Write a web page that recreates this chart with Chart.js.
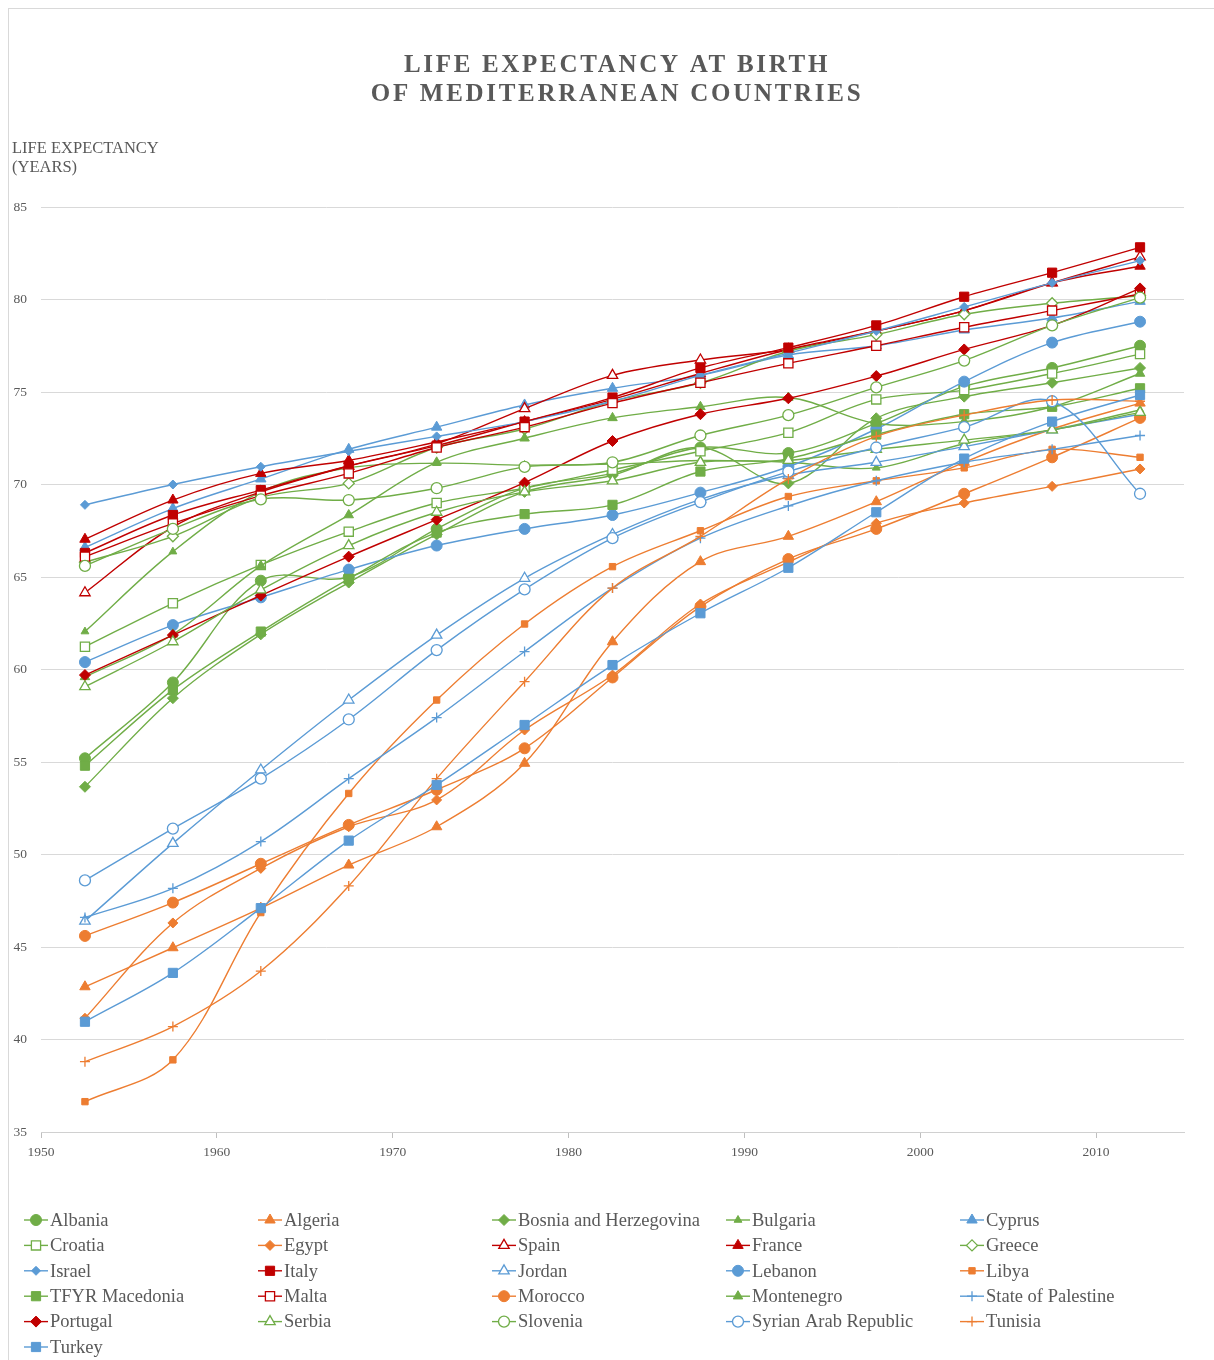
<!DOCTYPE html>
<html><head><meta charset="utf-8">
<script src="https://cdn.jsdelivr.net/npm/chart.js@4/dist/chart.umd.min.js"></script>
<style>
html,body{margin:0;padding:0;background:#fff;overflow:hidden;}
#frame{position:absolute;left:8px;top:8px;width:1240px;height:1400px;border:1px solid #d9d9d9;}
#wrap{position:absolute;left:0;top:0;width:1214px;height:1360px;}
#c{display:block;width:1214px;height:1360px;}
</style></head><body>
<div id="frame"></div>
<div id="wrap"><canvas id="c" width="1214" height="1360"></canvas></div>
<script>
// ---- data ----
const years = [1952.5, 1957.5, 1962.5, 1967.5, 1972.5, 1977.5, 1982.5, 1987.5, 1992.5, 1997.5, 2002.5, 2007.5, 2012.5];
const xTicks = [1950, 1960, 1970, 1980, 1990, 2000, 2010];
const yTicks = [35, 40, 45, 50, 55, 60, 65, 70, 75, 80, 85];
const titleLines = ['LIFE EXPECTANCY AT BIRTH', 'OF MEDITERRANEAN COUNTRIES'];
const axisTitleLines = ['LIFE EXPECTANCY', '(YEARS)'];

const albania    = [55.2, 59.3, 64.8, 65.0, 67.6, 69.8, 70.6, 72.0, 71.7, 73.3, 75.3, 76.3, 77.5];
const algeria    = [42.85, 44.96, 47.1, 49.43, 51.5, 54.93, 61.5, 65.83, 67.2, 69.07, 71.2, 73.0, 74.4];
const bosnia     = [53.66, 58.45, 61.9, 64.7, 67.3, 69.6, 70.5, 72.0, 70.06, 73.58, 74.75, 75.5, 76.3];
const bulgaria   = [62.05, 66.37, 69.6, 70.9, 71.15, 71.05, 71.1, 71.3, 71.2, 70.9, 72.2, 72.95, 74.03];
const cyprus     = [66.6, 68.7, 70.3, 71.9, 73.1, 74.3, 75.2, 75.9, 77.0, 77.5, 78.35, 79.0, 79.9];
const croatia    = [61.23, 63.58, 65.65, 67.45, 69.0, 69.8, 70.8, 71.8, 72.8, 74.6, 75.1, 76.0, 77.05];
const egypt      = [41.15, 46.3, 49.25, 51.5, 52.95, 56.73, 59.7, 63.54, 65.8, 67.9, 69.0, 69.9, 70.84];
const spain      = [64.15, 67.7, 69.6, 71.0, 72.2, 74.1, 75.9, 76.73, 77.3, 78.3, 79.4, 80.9, 82.3];
const france     = [67.04, 69.16, 70.6, 71.3, 72.3, 73.4, 74.6, 76.0, 77.3, 78.3, 79.4, 80.9, 81.8];
const greece     = [65.8, 67.2, 69.3, 70.06, 72.0, 73.0, 74.5, 75.5, 77.2, 78.1, 79.2, 79.8, 80.2];
const israel     = [68.9, 70.0, 70.96, 71.8, 72.6, 73.4, 74.5, 75.9, 77.1, 78.3, 79.6, 80.9, 82.1];
const italy      = [66.3, 68.35, 69.7, 71.0, 72.1, 73.4, 74.7, 76.3, 77.4, 78.6, 80.15, 81.45, 82.82];
const jordan     = [46.4, 50.6, 54.57, 58.35, 61.86, 64.93, 67.3, 69.2, 70.5, 71.2, 72.05, 72.95, 73.8];
const lebanon    = [60.4, 62.4, 63.9, 65.4, 66.7, 67.6, 68.35, 69.56, 70.96, 73.0, 75.56, 77.67, 78.8];
const libya      = [36.64, 38.9, 46.86, 53.3, 58.35, 62.46, 65.56, 67.5, 69.35, 70.2, 70.9, 71.9, 71.47];
const macedonia  = [54.8, 58.9, 62.05, 64.9, 67.4, 68.4, 68.9, 70.7, 71.4, 72.7, 73.8, 74.2, 75.2];
const malta      = [66.1, 67.9, 69.4, 70.6, 72.0, 73.1, 74.4, 75.5, 76.55, 77.5, 78.5, 79.4, 80.3];
const morocco    = [45.6, 47.4, 49.5, 51.6, 53.5, 55.74, 59.57, 63.4, 65.97, 67.6, 69.5, 71.47, 73.6];
const montenegro = [59.6, 61.9, 65.6, 68.35, 71.2, 72.5, 73.6, 74.2, 74.7, 73.3, 73.4, 74.2, 76.0];
const palestine  = [46.6, 48.17, 50.7, 54.1, 57.4, 60.97, 64.4, 67.1, 68.84, 70.2, 71.2, 71.9, 72.65];
const portugal   = [59.7, 61.86, 64.0, 66.1, 68.1, 70.1, 72.35, 73.8, 74.66, 75.86, 77.3, 78.6, 80.6];
const serbia     = [59.07, 61.5, 64.3, 66.7, 68.5, 69.6, 70.2, 71.2, 71.3, 71.9, 72.4, 72.95, 73.9];
const slovenia   = [65.6, 67.6, 69.2, 69.16, 69.8, 70.95, 71.2, 72.65, 73.75, 75.25, 76.7, 78.6, 80.1];
const syria      = [48.6, 51.4, 54.1, 57.3, 61.05, 64.33, 67.1, 69.05, 70.7, 72.0, 73.1, 74.5, 69.5];
const tunisia    = [38.8, 40.7, 43.7, 48.3, 54.1, 59.34, 64.4, 67.2, 70.3, 72.6, 73.75, 74.57, 74.5];
const turkey     = [40.96, 43.6, 47.1, 50.75, 53.76, 57.0, 60.24, 63.04, 65.5, 68.5, 71.4, 73.4, 74.84];

const countries = ['Albania','Algeria','Bosnia and Herzegovina','Bulgaria','Cyprus','Croatia','Egypt','Spain','France','Greece','Israel','Italy','Jordan','Lebanon','Libya','TFYR Macedonia','Malta','Morocco','Montenegro','State of Palestine','Portugal','Serbia','Slovenia','Syrian Arab Republic','Tunisia','Turkey'];
const seriesValues = [albania, algeria, bosnia, bulgaria, cyprus, croatia, egypt, spain, france, greece, israel, italy, jordan, lebanon, libya, macedonia, malta, morocco, montenegro, palestine, portugal, serbia, slovenia, syria, tunisia, turkey];

// ---- styles ----
const G = '#70AD47', O = '#ED7D31', B = '#5B9BD5', R = '#C00000';
// [colour, pointStyle, radius, hollow]
const styles = [
  [G,'circle',5.5,false],   [O,'triangle',6,false],  [G,'rectRot',5.5,false], [G,'triangle',4.5,false], [B,'triangle',6,false],
  [G,'rect',6.5,true],      [O,'rectRot',5,false],   [R,'triangle',6,true],   [R,'triangle',6,false],   [G,'rectRot',5.5,true],
  [B,'rectRot',4.5,false],  [R,'rect',6.5,false],    [B,'triangle',6,true],   [B,'circle',5.5,false],   [O,'rect',4.5,false],
  [G,'rect',6.5,false],     [R,'rect',6.5,true],     [O,'circle',5.5,false],  [G,'triangle',5.5,false], [B,'cross',5,false],
  [R,'rectRot',5.5,false],  [G,'triangle',6,true],   [G,'circle',5.5,true],   [B,'circle',5.5,true],    [O,'cross',5,false],
  [B,'rect',6.5,false]
];

const n = countries.length;
const datasets = countries.map((name, i) => {
  const [c, ps, r, hollow] = styles[i];
  return {
    label: name,
    data: years.map((x, k) => ({x: x, y: seriesValues[i][k]})),
    borderColor: c,
    backgroundColor: c,
    borderWidth: 1.4,
    tension: 0.35,
    pointStyle: ps,
    pointRadius: r,
    pointHoverRadius: r,
    pointBorderColor: c,
    pointBackgroundColor: hollow ? '#ffffff' : c,
    pointBorderWidth: (hollow || ps === 'cross') ? 1.3 : 1,
    order: n - i,
    fill: false
  };
});

const serif = '"Liberation Serif", "DejaVu Serif", serif';

const overlay = {
  id: 'overlay',
  afterDraw(chart) {
    const ctx = chart.ctx;
    ctx.save();
    ctx.fillStyle = '#595959';
    ctx.textAlign = 'center';
    ctx.textBaseline = 'middle';
    ctx.font = 'bold 25px ' + serif;
    ctx.letterSpacing = '2.7px';
    ctx.fillText(titleLines[0], 617, 66);
    ctx.fillText(titleLines[1], 617, 95);
    ctx.letterSpacing = '0px';
    ctx.textAlign = 'left';
    ctx.font = '16.5px ' + serif;
    ctx.fillText(axisTitleLines[0], 12, 149);
    ctx.fillText(axisTitleLines[1], 12, 168);

    // legend
    chart.data.datasets.forEach((ds, i) => {
      const col = i % 5, row = Math.floor(i / 5);
      const x = 24 + col * 234, y = 1220 + row * 25.4;
      ctx.strokeStyle = ds.borderColor;
      ctx.lineWidth = 1.4;
      ctx.beginPath(); ctx.moveTo(x, y); ctx.lineTo(x + 24, y); ctx.stroke();
      ctx.fillStyle = ds.pointBackgroundColor;
      ctx.strokeStyle = ds.pointBorderColor;
      ctx.lineWidth = ds.pointBorderWidth;
      Chart.helpers.drawPoint(ctx, {pointStyle: ds.pointStyle, radius: ds.pointRadius, borderWidth: ds.pointBorderWidth, rotation: 0}, x + 12, y);
      ctx.fillStyle = '#595959';
      ctx.font = '18.5px ' + serif;
      ctx.textBaseline = 'middle';
      ctx.fillText(ds.label, x + 26, y + 1);
    });
    ctx.restore();
  }
};

new Chart(document.getElementById('c'), {
  type: 'line',
  data: { datasets: datasets },
  plugins: [overlay],
  options: {
    responsive: false,
    maintainAspectRatio: false,
    animation: false,
    events: [],
    layout: { padding: { left: 0, top: 207, right: 30, bottom: 188 } },
    plugins: { legend: { display: false }, title: { display: false }, tooltip: { enabled: false } },
    scales: {
      x: {
        type: 'linear',
        min: 1950, max: 2015,
        afterBuildTicks: (s) => { s.ticks = xTicks.map(v => ({value: v})); },
        afterFit: (s) => { s.height = 40; },
        grid: { display: true, drawOnChartArea: false, drawTicks: true, tickLength: 6, color: '#bfbfbf' },
        border: { display: true, color: '#d0d0d0' },
        ticks: { padding: 6, color: '#595959', font: { family: serif, size: 13.5 }, maxRotation: 0, callback: (v) => String(v) }
      },
      y: {
        min: 35, max: 85,
        afterBuildTicks: (s) => { s.ticks = yTicks.map(v => ({value: v})); },
        afterFit: (s) => { s.width = 41; },
        grid: { color: '#d9d9d9', drawTicks: false, lineWidth: 1 },
        border: { display: false },
        ticks: { padding: 14, color: '#595959', font: { family: serif, size: 13.5 }, callback: (v) => String(v) }
      }
    }
  }
});
</script>
</body></html>
